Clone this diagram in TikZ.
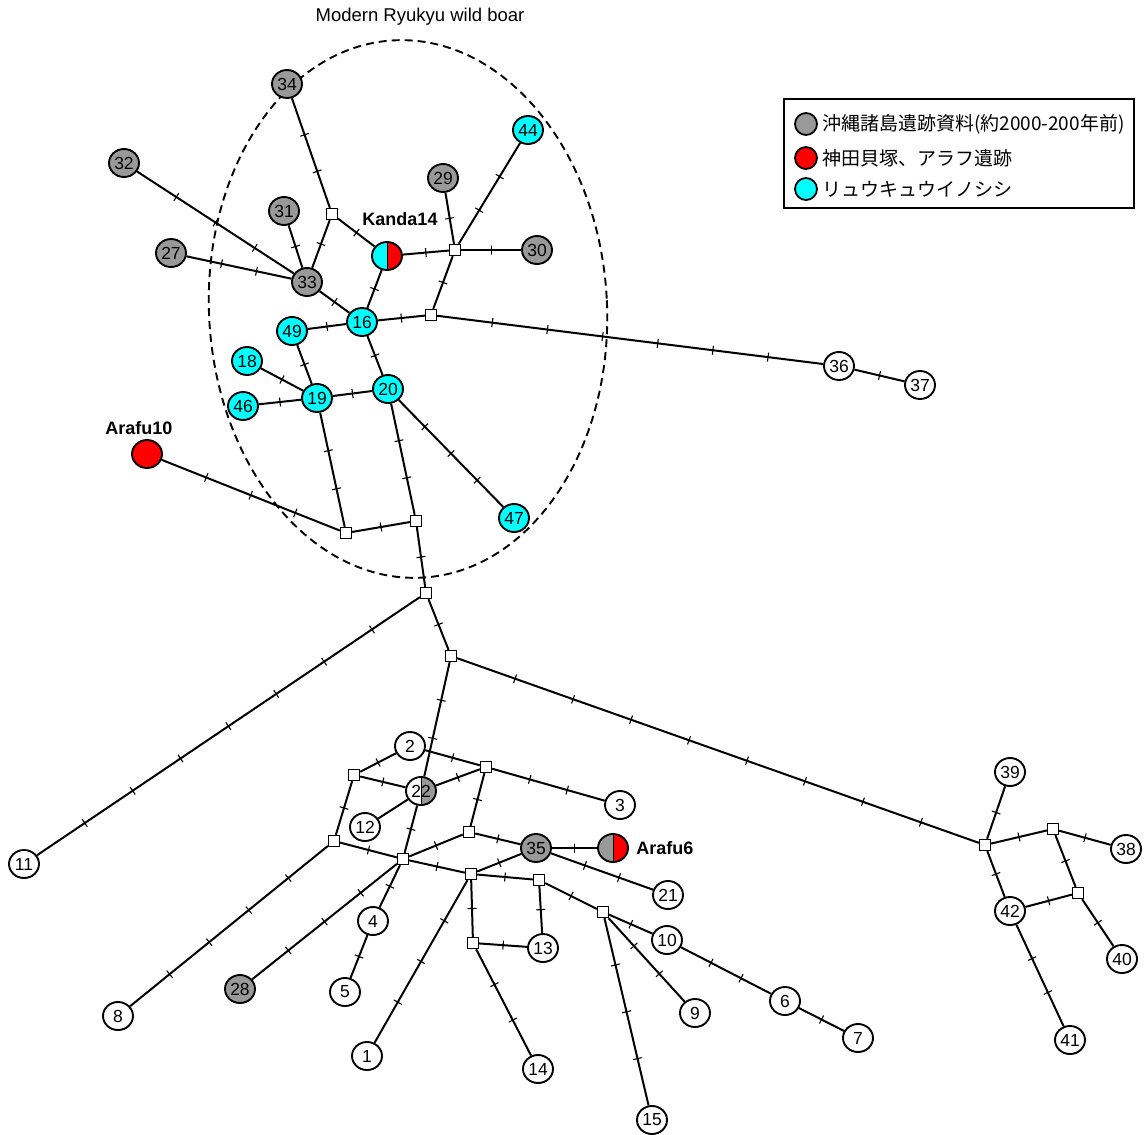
\documentclass[tikz,border=0pt]{standalone}
\usepackage{fontspec}
\setmainfont{Liberation Sans}
\newfontfamily\jpfont{Noto Sans CJK JP}
\usetikzlibrary{shapes.geometric}
\definecolor{hapgray}{RGB}{153,153,153}
\definecolor{hapcyan}{RGB}{0,255,255}
\newcommand{\mutlink}[3]{%
  \draw[link] (#1) -- (#2)
    \foreach \k [evaluate=\k as \tpos using \k/(#3+1)] in {1,...,#3} {node[mut, pos=\tpos] {}};}
\begin{document}
\begin{tikzpicture}[x=1pt, y=-1pt,
  hap/.style={ellipse, draw, line width=1.9pt, minimum width=30pt, minimum height=28pt, inner sep=0pt, font=\fontsize{17.5}{17.5}\selectfont},
  okinawa/.style={hap, fill=hapgray},
  boar/.style={hap, fill=hapcyan},
  plain/.style={hap, fill=white},
  site/.style={hap, fill=red},
  half/.style 2 args={hap, fill=#1, path picture={\fill[#2] (path picture bounding box.north) rectangle (path picture bounding box.south east);
      \draw[line width=1pt] (path picture bounding box.north) -- (path picture bounding box.south);}},
  median/.style={rectangle, draw, fill=white, line width=1.3pt, minimum size=11pt, inner sep=0pt},
  link/.style={line width=2pt},
  mut/.style={sloped, draw, line width=1.1pt, minimum width=0pt, minimum height=9pt, inner sep=0pt},
  lbl/.style={font=\bfseries\fontsize{18}{18}\selectfont},
  key/.style={circle, draw, line width=1.8pt, minimum size=22pt, inner sep=0pt},
  keytext/.style={anchor=west, inner sep=0pt, font=\jpfont\fontsize{19}{19}\selectfont}]
\useasboundingbox (0,0) rectangle (1146,1135);
\draw[line width=1.9pt, dash pattern=on 8pt off 5pt, rotate around={3:(408,309)}] (408,309) ellipse [x radius=199pt, y radius=269pt];
\node[font=\fontsize{18.5}{18.5}\selectfont] (cluster) at (420,17) {Modern Ryukyu wild boar};

\node[okinawa] (h34) at (287,84) {34};
\node[okinawa] (h32) at (124,163) {32};
\node[okinawa] (h31) at (284,211) {31};
\node[okinawa] (h27) at (171,253) {27};
\node[okinawa] (h33) at (307,282) {33};
\node[okinawa] (h29) at (443,178) {29};
\node[boar] (h44) at (528,130) {44};
\node[okinawa] (h30) at (537,250) {30};
\node[half={hapcyan}{red}] (kanda14) at (387,256) {};
\node[lbl] (kanda14lbl) at (400,219) {Kanda14};
\node[boar] (h16) at (362,322) {16};
\node[boar] (h49) at (292,331) {49};
\node[boar] (h18) at (247,361) {18};
\node[boar] (h19) at (317,398) {19};
\node[boar] (h46) at (243,406) {46};
\node[boar] (h20) at (388,389) {20};
\node[boar] (h47) at (514,518) {47};
\node[site] (arafu10) at (147,454) {};
\node[lbl] (arafu10lbl) at (139,428) {Arafu10};
\node[plain] (h36) at (839,366) {36};
\node[plain] (h37) at (920,385) {37};
\node[median] (m1) at (332,214) {};
\node[median] (m2) at (455,250) {};
\node[median] (m3) at (431,315) {};
\node[median] (m4) at (346,533) {};
\node[median] (m5) at (416,521) {};
\node[median] (m6) at (426,593) {};
\node[median] (m7) at (451,656) {};

\node[plain] (h11) at (24,864) {11};
\node[plain] (h2) at (410,746) {2};
\node[half={white}{hapgray}] (h22) at (421,791) {22};
\node[plain] (h12) at (365,827) {12};
\node[median] (mA) at (354,775) {};
\node[median] (mB) at (486,767) {};
\node[median] (mC) at (334,841) {};
\node[median] (mD) at (403,859) {};
\node[median] (mE) at (469,832) {};
\node[median] (mF) at (471,874) {};
\node[okinawa] (h35) at (536,848) {35};
\node[half={hapgray}{red}] (arafu6) at (613,848) {};
\node[lbl, anchor=west] (arafu6lbl) at ([xshift=4pt]arafu6.east) {Arafu6};
\node[median] (mG) at (539,880) {};
\node[plain] (h3) at (620,805) {3};
\node[plain] (h21) at (668,895) {21};
\node[median] (mH) at (603,912) {};
\node[median] (mI) at (473,943) {};
\node[plain] (h13) at (543,948) {13};
\node[plain] (h10) at (667,940) {10};
\node[plain] (h9) at (695,1013) {9};
\node[plain] (h6) at (785,1001) {6};
\node[plain] (h7) at (858,1038) {7};
\node[plain] (h14) at (538,1069) {14};
\node[plain] (h15) at (652,1120) {15};
\node[plain] (h1) at (367,1056) {1};
\node[plain] (h4) at (373,921) {4};
\node[plain] (h5) at (345,992) {5};
\node[okinawa] (h28) at (240,989) {28};
\node[plain] (h8) at (118,1016) {8};

\node[median] (mJ) at (985,845) {};
\node[plain] (h39) at (1010,772) {39};
\node[median] (mK) at (1053,829) {};
\node[plain] (h38) at (1126,849) {38};
\node[median] (mL) at (1078,893) {};
\node[plain] (h42) at (1010,911) {42};
\node[plain] (h40) at (1122,959) {40};
\node[plain] (h41) at (1070,1040) {41};

\mutlink{m1}{h34}{2}
\mutlink{m1}{h33}{1}
\mutlink{m1}{kanda14}{1}
\mutlink{h32}{h33}{3}
\mutlink{h31}{h33}{1}
\mutlink{h27}{h33}{2}
\mutlink{h33}{h16}{1}
\mutlink{kanda14}{h16}{1}
\mutlink{kanda14}{m2}{1}
\mutlink{h29}{m2}{1}
\mutlink{h44}{m2}{2}
\mutlink{m2}{h30}{1}
\mutlink{m2}{m3}{1}
\mutlink{h16}{m3}{1}
\mutlink{m3}{h36}{6}
\mutlink{h36}{h37}{1}
\mutlink{h49}{h16}{1}
\mutlink{h16}{h20}{1}
\mutlink{h49}{h19}{1}
\mutlink{h18}{h19}{1}
\mutlink{h46}{h19}{1}
\mutlink{h19}{h20}{1}
\mutlink{h19}{m4}{2}
\mutlink{h20}{m5}{2}
\mutlink{h20}{h47}{3}
\mutlink{arafu10}{m4}{3}
\mutlink{m4}{m5}{1}
\mutlink{m5}{m6}{1}
\mutlink{m6}{m7}{1}
\mutlink{m6}{h11}{7}
\mutlink{m7}{h22}{2}
\mutlink{m7}{mJ}{8}

\mutlink{h2}{mA}{1}
\mutlink{h2}{mB}{1}
\mutlink{mA}{h22}{1}
\mutlink{h22}{mB}{1}
\mutlink{mA}{mC}{1}
\draw[link] (h12) -- (h22);
\mutlink{h22}{mD}{1}
\mutlink{mB}{mE}{1}
\mutlink{mB}{h3}{2}
\mutlink{mC}{mD}{1}
\mutlink{mC}{h8}{4}
\mutlink{mD}{mE}{1}
\mutlink{mD}{mF}{1}
\mutlink{mD}{h28}{3}
\mutlink{mD}{h4}{1}
\mutlink{h4}{h5}{1}
\mutlink{mE}{h35}{1}
\mutlink{mF}{h35}{1}
\mutlink{mF}{mG}{1}
\mutlink{mF}{mI}{1}
\mutlink{mF}{h1}{3}
\mutlink{h35}{arafu6}{1}
\mutlink{h35}{h21}{2}
\mutlink{mG}{h13}{1}
\mutlink{mG}{mH}{1}
\mutlink{mI}{h13}{1}
\mutlink{mI}{h14}{2}
\mutlink{mH}{h10}{1}
\mutlink{mH}{h9}{2}
\mutlink{mH}{h15}{3}
\mutlink{h10}{h6}{2}
\mutlink{h6}{h7}{1}

\mutlink{mJ}{h39}{1}
\mutlink{mJ}{mK}{1}
\mutlink{mK}{h38}{1}
\mutlink{mJ}{h42}{1}
\mutlink{mK}{mL}{1}
\mutlink{h42}{mL}{1}
\mutlink{mL}{h40}{1}
\mutlink{h42}{h41}{2}

\draw[line width=1.8pt] (784,99) rectangle (1134,208);
\node[key, fill=hapgray] (keygray) at (806,124) {};
\node[keytext] (txtgray) at (822,124) {沖縄諸島遺跡資料(約2000-200年前)};
\node[key, fill=red] (keyred) at (806,158) {};
\node[keytext] (txtred) at (822,158) {神田貝塚、アラフ遺跡};
\node[key, fill=hapcyan] (keycyan) at (806,189) {};
\node[keytext] (txtcyan) at (822,189) {リュウキュウイノシシ};
\end{tikzpicture}
\end{document}
